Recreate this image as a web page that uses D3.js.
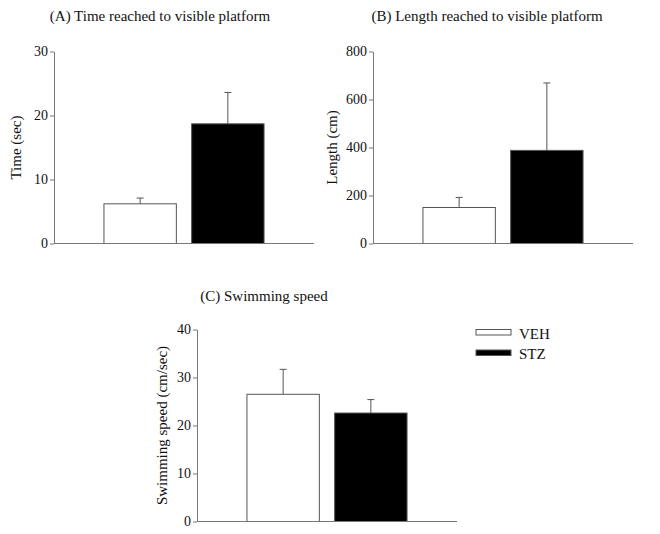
<!DOCTYPE html>
<html>
<head>
<meta charset="utf-8">
<script src="https://cdn.jsdelivr.net/npm/d3@7"></script>
<style>
  html, body { margin: 0; padding: 0; background: #fff; }
  svg { display: block; }
  text { font-family: "Liberation Serif", "Times New Roman", serif; fill: #111; }
</style>
</head>
<body>
<svg id="chart" width="660" height="534"></svg>
<script>
// ---- data ----
const groups = ["VEH", "STZ"];
const timeMean = [6.2, 18.7];
const timeSE = [0.9, 4.9];
const timeTicks = [0, 10, 20, 30];
const lengthMean = [150, 388];
const lengthSE = [42, 281];
const lengthTicks = [0, 200, 400, 600, 800];
const speedMean = [26.5, 22.6];
const speedSE = [5.2, 2.8];
const speedTicks = [0, 10, 20, 30, 40];
const fills = ["#ffffff", "#000000"];

const svg = d3.select("#chart");
const W = 260, H = 192;

function panel(opts) {
  const g = svg.append("g").attr("transform", `translate(${opts.x},${opts.y})`);
  const x = d3.scaleBand().domain(groups).range([0, W]).paddingInner(0.163).paddingOuter(0.564);
  const yMax = opts.ticks[opts.ticks.length - 1];
  const y = d3.scaleLinear().domain([0, yMax]).range([H, 0]);

  // title
  svg.append("text")
    .attr("x", opts.titleX).attr("y", opts.titleY)
    .attr("text-anchor", "middle")
    .style("font-size", "15px")
    .text(opts.title);

  // y label
  g.append("text")
    .attr("transform", `translate(${-opts.labelOff},${H / 2}) rotate(-90)`)
    .attr("text-anchor", "middle")
    .style("font-size", "15px")
    .text(opts.ylabel);

  const data = groups.map((k, i) => ({ k, m: opts.mean[i], se: opts.se[i], fill: fills[i] }));

  // error bars (upper)
  const eb = g.selectAll(".eb").data(data).enter().append("g");
  eb.append("line")
    .attr("x1", d => x(d.k) + x.bandwidth() / 2)
    .attr("x2", d => x(d.k) + x.bandwidth() / 2)
    .attr("y1", d => y(d.m)).attr("y2", d => y(d.m + d.se))
    .attr("stroke", "#555").attr("stroke-width", 1);
  eb.append("line")
    .attr("x1", d => x(d.k) + x.bandwidth() / 2 - 3.5)
    .attr("x2", d => x(d.k) + x.bandwidth() / 2 + 3.5)
    .attr("y1", d => y(d.m + d.se)).attr("y2", d => y(d.m + d.se))
    .attr("stroke", "#555").attr("stroke-width", 1);

  // bars
  g.selectAll(".bar").data(data).enter().append("rect")
    .attr("x", d => x(d.k) + 0.5)
    .attr("y", d => y(d.m))
    .attr("width", x.bandwidth() - 1)
    .attr("height", d => H - y(d.m))
    .attr("fill", d => d.fill)
    .attr("stroke", "#555").attr("stroke-width", 1);

  // y axis
  const ya = g.append("g")
    .attr("font-family", "'Liberation Serif', serif")
    .attr("font-size", 14)
    .call(d3.axisLeft(y).tickValues(opts.ticks).tickSize(4).tickSizeOuter(0).tickPadding(2).tickFormat(d3.format("d")));
  ya.attr("font-family", "'Liberation Serif', serif").attr("font-size", 14);
  ya.select(".domain").attr("stroke", "#777");
  ya.selectAll(".tick line").attr("stroke", "#777");
  ya.selectAll(".tick text").style("font-size", "14px").style("font-family", "'Liberation Serif', serif").attr("fill", "#111");

  // x baseline
  g.append("line").attr("x1", 0).attr("x2", W).attr("y1", H).attr("y2", H)
    .attr("stroke", "#777").attr("stroke-width", 1);
}

panel({ x: 54, y: 51.5, mean: timeMean, se: timeSE, ticks: timeTicks,
  title: "(A) Time reached to visible platform", titleX: 160, titleY: 21,
  ylabel: "Time (sec)", labelOff: 33 });
panel({ x: 373, y: 51.5, mean: lengthMean, se: lengthSE, ticks: lengthTicks,
  title: "(B) Length reached to visible platform", titleX: 487, titleY: 21,
  ylabel: "Length (cm)", labelOff: 36 });
panel({ x: 197, y: 329.5, mean: speedMean, se: speedSE, ticks: speedTicks,
  title: "(C) Swimming speed", titleX: 264, titleY: 301,
  ylabel: "Swimming speed (cm/sec)", labelOff: 30 });

// legend
const leg = svg.append("g").attr("transform", "translate(476,329.5)");
groups.forEach((k, i) => {
  leg.append("rect").attr("x", 0).attr("y", i * 20.5).attr("width", 35).attr("height", 5.5)
    .attr("fill", fills[i]).attr("stroke", "#555").attr("stroke-width", 1);
  leg.append("text").attr("x", 43).attr("y", i * 20.5 + 9).style("font-size", "15px").text(k);
});
</script>
</body>
</html>
